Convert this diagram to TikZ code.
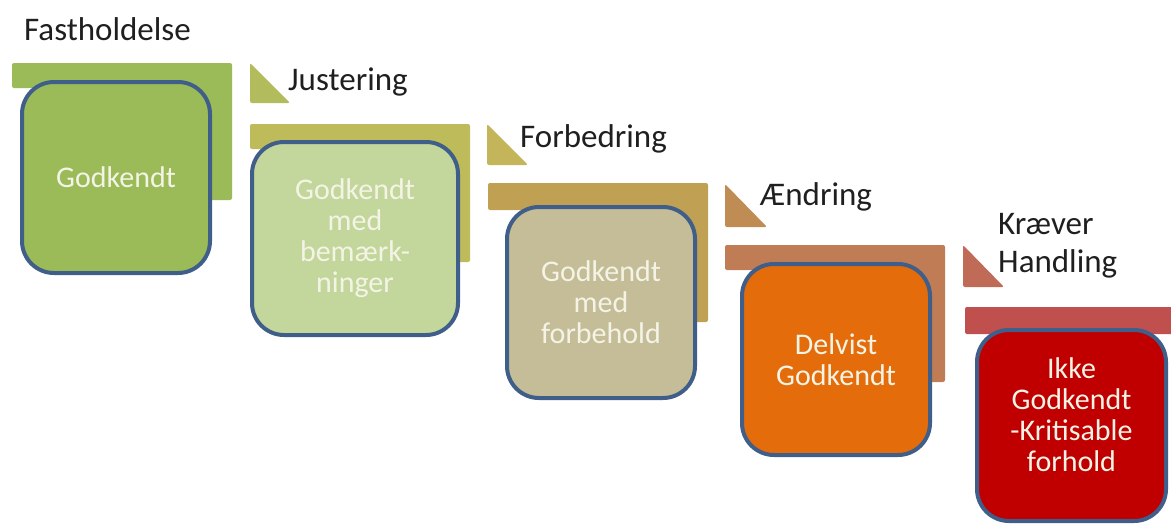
\documentclass[tikz,border=0pt]{standalone}
\usepackage{fontspec}
\setmainfont{Carlito}

\definecolor{boxline}{HTML}{3F5F8A}
\definecolor{boxtext}{HTML}{F4F4E6}
\definecolor{barA}{HTML}{9BBB59}
\definecolor{triA}{HTML}{B3BC5C}
\definecolor{barB}{HTML}{BDBB5A}
\definecolor{triB}{HTML}{C5B55A}
\definecolor{barC}{HTML}{C0A052}
\definecolor{triC}{HTML}{BF8C53}
\definecolor{barD}{HTML}{C07D55}
\definecolor{triD}{HTML}{C06A58}
\definecolor{barE}{HTML}{C0504D}
\definecolor{fillA}{HTML}{9BBB59}
\definecolor{fillB}{HTML}{C3D69B}
\definecolor{fillC}{HTML}{C4BD97}
\definecolor{fillD}{HTML}{E46C0A}
\definecolor{fillE}{HTML}{C00000}

\begin{document}
\begin{tikzpicture}[x=1pt,y=-1pt,
    box/.style={draw=boxline, line width=4pt, rounded corners=32pt, align=center,
        text=boxtext, font=\fontsize{30}{31}\selectfont, inner sep=0pt,
        minimum width=188pt, minimum height=191pt},
    boxtxt/.style={align=center, text=boxtext, font=\fontsize{30}{31}\selectfont, inner sep=0pt},
    stage/.style={anchor=base west, inner sep=0pt, align=left,
        font=\fontsize{33}{38}\selectfont, text=black!88},
    bar/.style={rounded corners=2pt},
    tri/.style={rounded corners=2pt}]
    \useasboundingbox (0,0) rectangle (1171,525);

    % back bars
    \fill[bar, barA] (12,63) -- (232,63) -- (232,200) -- (190,200) -- (190,88) -- (12,88) -- cycle;
    \fill[bar, barB] (250,124) -- (470,124) -- (470,262) -- (430,262) -- (430,149) -- (250,149) -- cycle;
    \fill[bar, barC] (488,183) -- (708,183) -- (708,322) -- (670,322) -- (670,210) -- (488,210) -- cycle;
    \fill[bar, barD] (725,245) -- (945,245) -- (945,382) -- (905,382) -- (905,270) -- (725,270) -- cycle;
    \fill[bar, barE] (965,307) -- (1175,307) -- (1175,334) -- (965,334) -- cycle;

    % corner triangles
    \fill[tri, triA] (250,63) -- (290,103) -- (250,103) -- cycle;
    \fill[tri, triB] (487,124) -- (528,165) -- (487,165) -- cycle;
    \fill[tri, triC] (725,184) -- (767,227) -- (725,227) -- cycle;
    \fill[tri, triD] (963,245) -- (1004,287) -- (963,287) -- cycle;

    % boxes
    \node[box, fill=fillA] (Bgod) at (116,177.5) {Godkendt};
    \node[box, fill=fillB, minimum width=206pt, minimum height=193pt] (Bbem) at (355,238.5) {Godkendt\\med\\bemærk-\\ninger};
    \node[box, fill=fillC] (Bfor) at (601,302.5) {Godkendt\\med\\forbehold};
    \node[box, fill=fillD] (Bdel) at (836,359.5) {Delvist\\Godkendt};
    \node[box, fill=fillE, minimum width=189pt] (Bikk) at (1071.5,425.5) {};
    \node[boxtxt] (Tikk) at (Bikk.center) [yshift=11pt] {Ikke\\Godkendt\\-Kritisable\\forhold};

    % stage labels
    \node[stage] (Lfast) at (24,40) {Fastholdelse};
    \node[stage] (Ljust) at (288,90) {Justering};
    \node[stage] (Lforb) at (520,147) {Forbedring};
    \node[stage] (Laend) at (760,205) {Ændring};
    \node[stage] (Lkraev) at (998,272) {Kræver\\Handling};

\end{tikzpicture}
\end{document}
